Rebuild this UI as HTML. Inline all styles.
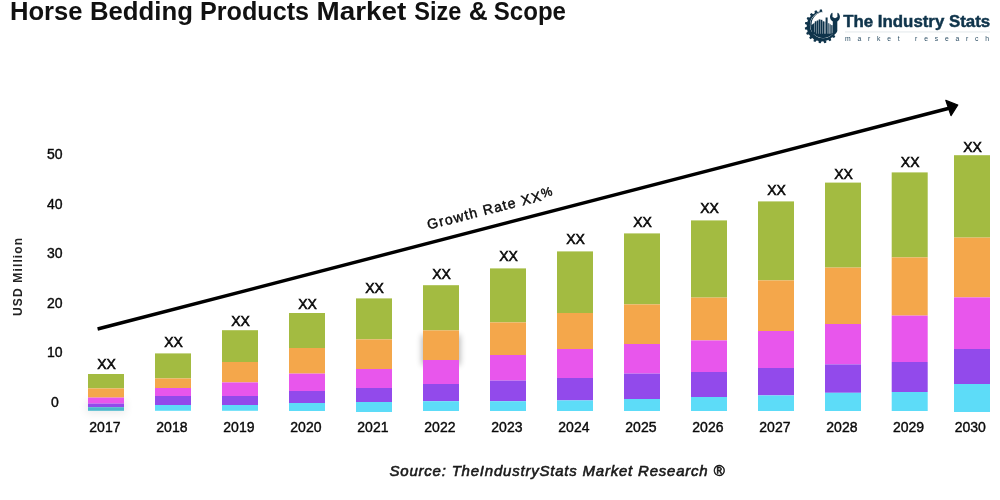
<!DOCTYPE html>
<html lang="en">
<head>
<meta charset="utf-8">
<title>Horse Bedding Products Market Size &amp; Scope</title>
<style>
html,body{margin:0;padding:0;background:#fff;}
body{width:1000px;height:500px;overflow:hidden;position:relative;font-family:"Liberation Sans",sans-serif;}
svg{display:block;position:absolute;left:0;top:0;}
text{font-family:"Liberation Sans",sans-serif;}
.t14{font-size:14px;fill:#0a0a0a;stroke:#0a0a0a;stroke-width:0.4px;}
.xx{font-size:14px;fill:#0a0a0a;stroke:#0a0a0a;stroke-width:0.55px;}
</style>
</head>
<body>
<svg width="1000" height="500" viewBox="0 0 1000 500">
<defs>
<filter id="sh" x="-50%" y="-50%" width="200%" height="200%"><feGaussianBlur stdDeviation="4"/></filter>
<filter id="sh3" x="-50%" y="-50%" width="200%" height="200%"><feGaussianBlur stdDeviation="3"/></filter>
</defs>
<rect width="1000" height="500" fill="#ffffff"/>
<text id="title" y="19.9" font-size="25" font-weight="700" fill="#111"><tspan x="9.95" textLength="72.59" lengthAdjust="spacingAndGlyphs">Horse</tspan> <tspan x="89.95" textLength="102.92" lengthAdjust="spacingAndGlyphs">Bedding</tspan> <tspan x="199.95" textLength="109.12" lengthAdjust="spacingAndGlyphs">Products</tspan> <tspan x="316.55" textLength="89.75" lengthAdjust="spacingAndGlyphs">Market</tspan> <tspan x="414.25" textLength="47.11" lengthAdjust="spacingAndGlyphs">Size</tspan> <tspan x="468.75" textLength="18.96" lengthAdjust="spacingAndGlyphs">&amp;</tspan> <tspan x="493.8" textLength="72.18" lengthAdjust="spacingAndGlyphs">Scope</tspan></text>
<text class="t14" x="47" y="159.0">50</text>
<text class="t14" x="47" y="208.6">40</text>
<text class="t14" x="47" y="258.2">30</text>
<text class="t14" x="47" y="307.8">20</text>
<text class="t14" x="47" y="357.4">10</text>
<text class="t14" x="50.9" y="407.0">0</text>
<text id="ytitle" transform="translate(22.4,316) rotate(-90)" font-size="12" font-weight="700" fill="#222" letter-spacing="1.15">USD Million</text>
<rect x="86" y="400" width="40" height="14" fill="#000" opacity="0.07" filter="url(#sh)"/>
<rect x="422" y="335" width="38" height="30" fill="#000" opacity="0.30" filter="url(#sh3)"/>
<g><rect x="88" y="374" width="36" height="14.4" fill="#a3bb41"/><rect x="88" y="388.4" width="36" height="9.2" fill="#f4a74b"/><rect x="88" y="397.6" width="36" height="6.0" fill="#e856ec"/><rect x="88" y="403.6" width="36" height="3.6" fill="#924aeb"/><rect x="88" y="407.2" width="36" height="3.6" fill="#4bb8cc"/></g>
<g><rect x="155" y="353.4" width="36" height="25.0" fill="#a3bb41"/><rect x="155" y="378.4" width="36" height="9.6" fill="#f4a74b"/><rect x="155" y="388" width="36" height="8.0" fill="#e856ec"/><rect x="155" y="396" width="36" height="9.0" fill="#924aeb"/><rect x="155" y="405" width="36" height="5.8" fill="#5ddcf8"/></g>
<g><rect x="222" y="330.2" width="36" height="31.8" fill="#a3bb41"/><rect x="222" y="362" width="36" height="20.4" fill="#f4a74b"/><rect x="222" y="382.4" width="36" height="13.6" fill="#e856ec"/><rect x="222" y="396" width="36" height="9.0" fill="#924aeb"/><rect x="222" y="405" width="36" height="5.8" fill="#5ddcf8"/></g>
<g><rect x="289" y="313" width="36" height="35.0" fill="#a3bb41"/><rect x="289" y="348" width="36" height="25.6" fill="#f4a74b"/><rect x="289" y="373.6" width="36" height="17.4" fill="#e856ec"/><rect x="289" y="391" width="36" height="12.0" fill="#924aeb"/><rect x="289" y="403" width="36" height="8.0" fill="#5ddcf8"/></g>
<g><rect x="356" y="298.4" width="36" height="41.0" fill="#a3bb41"/><rect x="356" y="339.4" width="36" height="29.6" fill="#f4a74b"/><rect x="356" y="369" width="36" height="19.0" fill="#e856ec"/><rect x="356" y="388" width="36" height="14.0" fill="#924aeb"/><rect x="356" y="402" width="36" height="10.0" fill="#5ddcf8"/></g>
<g><rect x="423" y="285.2" width="36" height="45.2" fill="#a3bb41"/><rect x="423" y="330.4" width="36" height="29.6" fill="#f4a74b"/><rect x="423" y="360" width="36" height="24.0" fill="#e856ec"/><rect x="423" y="384" width="36" height="17.2" fill="#924aeb"/><rect x="423" y="401.2" width="36" height="9.8" fill="#5ddcf8"/></g>
<g><rect x="490" y="268.4" width="36" height="54.0" fill="#a3bb41"/><rect x="490" y="322.4" width="36" height="32.6" fill="#f4a74b"/><rect x="490" y="355" width="36" height="25.6" fill="#e856ec"/><rect x="490" y="380.6" width="36" height="20.6" fill="#924aeb"/><rect x="490" y="401.2" width="36" height="9.8" fill="#5ddcf8"/></g>
<g><rect x="557" y="251.4" width="36" height="61.6" fill="#a3bb41"/><rect x="557" y="313" width="36" height="36.0" fill="#f4a74b"/><rect x="557" y="349" width="36" height="29.0" fill="#e856ec"/><rect x="557" y="378" width="36" height="22.4" fill="#924aeb"/><rect x="557" y="400.4" width="36" height="10.6" fill="#5ddcf8"/></g>
<g><rect x="624" y="233.4" width="36" height="71.0" fill="#a3bb41"/><rect x="624" y="304.4" width="36" height="39.6" fill="#f4a74b"/><rect x="624" y="344" width="36" height="29.6" fill="#e856ec"/><rect x="624" y="373.6" width="36" height="25.4" fill="#924aeb"/><rect x="624" y="399" width="36" height="12.0" fill="#5ddcf8"/></g>
<g><rect x="691" y="220.4" width="36" height="77.2" fill="#a3bb41"/><rect x="691" y="297.6" width="36" height="42.8" fill="#f4a74b"/><rect x="691" y="340.4" width="36" height="31.6" fill="#e856ec"/><rect x="691" y="372" width="36" height="25.0" fill="#924aeb"/><rect x="691" y="397" width="36" height="14.0" fill="#5ddcf8"/></g>
<g><rect x="758" y="201.4" width="36" height="79.0" fill="#a3bb41"/><rect x="758" y="280.4" width="36" height="50.6" fill="#f4a74b"/><rect x="758" y="331" width="36" height="37.0" fill="#e856ec"/><rect x="758" y="368" width="36" height="27.4" fill="#924aeb"/><rect x="758" y="395.4" width="36" height="15.6" fill="#5ddcf8"/></g>
<g><rect x="825" y="182.6" width="36" height="85.0" fill="#a3bb41"/><rect x="825" y="267.6" width="36" height="56.4" fill="#f4a74b"/><rect x="825" y="324" width="36" height="40.4" fill="#e856ec"/><rect x="825" y="364.4" width="36" height="28.4" fill="#924aeb"/><rect x="825" y="392.8" width="36" height="18.2" fill="#5ddcf8"/></g>
<g><rect x="891.7" y="172.4" width="36" height="85.0" fill="#a3bb41"/><rect x="891.7" y="257.4" width="36" height="58.2" fill="#f4a74b"/><rect x="891.7" y="315.6" width="36" height="46.4" fill="#e856ec"/><rect x="891.7" y="362" width="36" height="30.0" fill="#924aeb"/><rect x="891.7" y="392" width="36" height="19.0" fill="#5ddcf8"/></g>
<g><rect x="954" y="155.2" width="36" height="82.4" fill="#a3bb41"/><rect x="954" y="237.6" width="36" height="59.8" fill="#f4a74b"/><rect x="954" y="297.4" width="36" height="51.6" fill="#e856ec"/><rect x="954" y="349" width="36" height="35.0" fill="#924aeb"/><rect x="954" y="384" width="36" height="28.0" fill="#5ddcf8"/></g>
<text class="xx" x="106.5" y="368.6" text-anchor="middle">XX</text>
<text class="xx" x="173.5" y="347.1" text-anchor="middle">XX</text>
<text class="xx" x="240.5" y="325.8" text-anchor="middle">XX</text>
<text class="xx" x="307.5" y="308.70000000000005" text-anchor="middle">XX</text>
<text class="xx" x="374.5" y="292.70000000000005" text-anchor="middle">XX</text>
<text class="xx" x="441.5" y="279.1" text-anchor="middle">XX</text>
<text class="xx" x="508.5" y="261.1" text-anchor="middle">XX</text>
<text class="xx" x="575.5" y="244.1" text-anchor="middle">XX</text>
<text class="xx" x="642.5" y="227.1" text-anchor="middle">XX</text>
<text class="xx" x="709.5" y="213.1" text-anchor="middle">XX</text>
<text class="xx" x="776.5" y="195.1" text-anchor="middle">XX</text>
<text class="xx" x="843.5" y="178.6" text-anchor="middle">XX</text>
<text class="xx" x="910.2" y="167.1" text-anchor="middle">XX</text>
<text class="xx" x="972.5" y="152.1" text-anchor="middle">XX</text>
<text class="t14" x="104.9" y="432.3" text-anchor="middle">2017</text>
<text class="t14" x="171.9" y="432.3" text-anchor="middle">2018</text>
<text class="t14" x="238.9" y="432.3" text-anchor="middle">2019</text>
<text class="t14" x="305.9" y="432.3" text-anchor="middle">2020</text>
<text class="t14" x="372.9" y="432.3" text-anchor="middle">2021</text>
<text class="t14" x="439.9" y="432.3" text-anchor="middle">2022</text>
<text class="t14" x="506.9" y="432.3" text-anchor="middle">2023</text>
<text class="t14" x="573.9" y="432.3" text-anchor="middle">2024</text>
<text class="t14" x="640.9" y="432.3" text-anchor="middle">2025</text>
<text class="t14" x="707.9" y="432.3" text-anchor="middle">2026</text>
<text class="t14" x="774.9" y="432.3" text-anchor="middle">2027</text>
<text class="t14" x="841.9" y="432.3" text-anchor="middle">2028</text>
<text class="t14" x="908.6" y="432.3" text-anchor="middle">2029</text>
<text class="t14" x="970.3" y="432.3" text-anchor="middle">2030</text>
<line x1="97.6" y1="329" x2="950" y2="108" stroke="#000" stroke-width="3.4"/>
<path d="M945.8 100.4 L957.8 105 L951 115.6 Z" fill="#000" stroke="#000" stroke-width="1.2" stroke-linejoin="round"/>
<text id="growth" transform="translate(428.6,229.6) rotate(-14.4)" font-size="14" fill="#0a0a0a" stroke="#0a0a0a" stroke-width="0.45" letter-spacing="1.2">Growth Rate XX<tspan font-size="12.5" dy="-2.7">%</tspan></text>
<text id="source" x="389.5" y="476.2" font-size="15" font-style="italic" fill="#1a1a1a" stroke="#1a1a1a" stroke-width="0.6" letter-spacing="1" textLength="336" lengthAdjust="spacing">Source: TheIndustryStats Market Research ®</text>
<g id="logo">
<clipPath id="gc"><polygon points="821.70,26.40 847.68,41.40 844.68,45.68 840.98,49.38 836.70,52.38 831.96,54.59 826.91,55.94 821.70,56.40 816.49,55.94 811.44,54.59 806.70,52.38 802.42,49.38 798.72,45.68 795.72,41.40 793.51,36.66 792.16,31.61 791.70,26.40 792.16,21.19 793.51,16.14 795.72,11.40 798.72,7.12 802.42,3.42 806.70,0.42 811.44,-1.79 816.49,-3.14 821.70,-3.60 823.27,-3.56"/></clipPath>
<g clip-path="url(#gc)"><path d="M806.70 26.40 a15.0 15.0 0 1 1 30.00 0 a15.0 15.0 0 1 1 -30.00 0 Z M809.90 25.00 a13.2 13.2 0 1 0 26.40 0 a13.2 13.2 0 1 0 -26.40 0 Z" fill="#0f344b" fill-rule="evenodd"/>
<polygon points="836.20,24.85 838.60,25.40 838.60,27.40 836.20,27.95" fill="#0f344b" transform="rotate(2.0 821.7 26.4)"/>
<polygon points="836.20,24.85 838.60,25.40 838.60,27.40 836.20,27.95" fill="#0f344b" transform="rotate(20.9 821.7 26.4)"/>
<polygon points="836.20,24.85 838.60,25.40 838.60,27.40 836.20,27.95" fill="#0f344b" transform="rotate(39.9 821.7 26.4)"/>
<polygon points="836.20,24.85 838.60,25.40 838.60,27.40 836.20,27.95" fill="#0f344b" transform="rotate(58.8 821.7 26.4)"/>
<polygon points="836.20,24.85 838.60,25.40 838.60,27.40 836.20,27.95" fill="#0f344b" transform="rotate(77.8 821.7 26.4)"/>
<polygon points="836.20,24.85 838.60,25.40 838.60,27.40 836.20,27.95" fill="#0f344b" transform="rotate(96.7 821.7 26.4)"/>
<polygon points="836.20,24.85 838.60,25.40 838.60,27.40 836.20,27.95" fill="#0f344b" transform="rotate(115.7 821.7 26.4)"/>
<polygon points="836.20,24.85 838.60,25.40 838.60,27.40 836.20,27.95" fill="#0f344b" transform="rotate(134.6 821.7 26.4)"/>
<polygon points="836.20,24.85 838.60,25.40 838.60,27.40 836.20,27.95" fill="#0f344b" transform="rotate(153.6 821.7 26.4)"/>
<polygon points="836.20,24.85 838.60,25.40 838.60,27.40 836.20,27.95" fill="#0f344b" transform="rotate(172.5 821.7 26.4)"/>
<polygon points="836.20,24.85 838.60,25.40 838.60,27.40 836.20,27.95" fill="#0f344b" transform="rotate(191.5 821.7 26.4)"/>
<polygon points="836.20,24.85 838.60,25.40 838.60,27.40 836.20,27.95" fill="#0f344b" transform="rotate(210.4 821.7 26.4)"/>
<polygon points="836.20,24.85 838.60,25.40 838.60,27.40 836.20,27.95" fill="#0f344b" transform="rotate(229.4 821.7 26.4)"/>
<polygon points="836.20,24.85 838.60,25.40 838.60,27.40 836.20,27.95" fill="#0f344b" transform="rotate(248.3 821.7 26.4)"/>
<polygon points="836.20,24.85 838.60,25.40 838.60,27.40 836.20,27.95" fill="#0f344b" transform="rotate(267.3 821.7 26.4)"/>
<polygon points="836.20,24.85 838.60,25.40 838.60,27.40 836.20,27.95" fill="#0f344b" transform="rotate(286.2 821.7 26.4)"/>
<polygon points="836.20,24.85 838.60,25.40 838.60,27.40 836.20,27.95" fill="#0f344b" transform="rotate(305.2 821.7 26.4)"/>
<polygon points="836.20,24.85 838.60,25.40 838.60,27.40 836.20,27.95" fill="#0f344b" transform="rotate(324.1 821.7 26.4)"/>
<polygon points="836.20,24.85 838.60,25.40 838.60,27.40 836.20,27.95" fill="#0f344b" transform="rotate(343.1 821.7 26.4)"/>
</g>
<path d="M810.22 25.00 a12.88 12.88 0 1 1 25.76 0 a12.88 12.88 0 1 1 -25.76 0 Z M811.60 24.30 a12.2 12.2 0 1 0 24.40 0 a12.2 12.2 0 1 0 -24.40 0 Z" fill="#0f344b" fill-rule="evenodd" clip-path="url(#gc)"/>
<clipPath id="dc"><rect x="805" y="33.8" width="40" height="12"/></clipPath>
<circle cx="823.1" cy="25.0" r="12.88" fill="#0f344b" clip-path="url(#dc)"/>
<polygon points="811.2,25.3 814.5,22.7 814.5,34 812.0,34" fill="#0f344b"/>
<rect x="814.8" y="21.3" width="1.7" height="12.7" fill="#0f344b" opacity="1"/>
<rect x="816.75" y="20.5" width="1.7" height="13.5" fill="#0f344b" opacity="1"/>
<rect x="818.7" y="19.4" width="1.7" height="14.6" fill="#0f344b" opacity="1"/>
<rect x="820.65" y="19.8" width="1.7" height="14.2" fill="#0f344b" opacity="1"/>
<rect x="822.6" y="21.3" width="1.6" height="12.7" fill="#0f344b" opacity="1"/>
<rect x="824.3" y="21.7" width="1.2" height="12.3" fill="#0f344b" opacity="0.6"/>
<rect x="825.6" y="17.5" width="2.0" height="16.5" fill="#0f344b" opacity="1"/>
<rect x="827.8" y="23.2" width="1.6" height="10.8" fill="#0f344b" opacity="0.7"/>
<rect x="829.5" y="24.3" width="1.5" height="9.7" fill="#0f344b" opacity="0.7"/>
<rect x="831.1" y="25.1" width="1.5" height="8.9" fill="#0f344b" opacity="0.85"/>
<path d="M832.8 35.4 L832.8 21.6 C830.9 20.6 829.9 18.6 830 16.6 C830.1 14.9 830.8 13.6 832 12.7 L832.5 13 L832.5 16.9 L835 18.2 L837.4 16.9 L837.4 13 L837.9 12.7 C839.1 13.6 839.8 14.9 839.9 16.6 C840 18.6 839 20.6 837.3 21.6 L837.3 31 C836.8 32.8 835.3 34.4 832.8 35.4 Z" fill="#0f344b"/>
<text id="lt1" x="843.2" y="26.5" font-size="16" font-weight="700" fill="#0f344b" stroke="#0f344b" stroke-width="0.45" textLength="147" lengthAdjust="spacingAndGlyphs">The Industry Stats</text>
<rect x="845" y="31.5" width="145" height="0.9" fill="#dfe5e9"/>
<text id="lt2" x="845" y="41.2" font-size="6.8" fill="#2d4f65" textLength="144" lengthAdjust="spacing">market research</text>
</g>
</svg>
</body>
</html>
